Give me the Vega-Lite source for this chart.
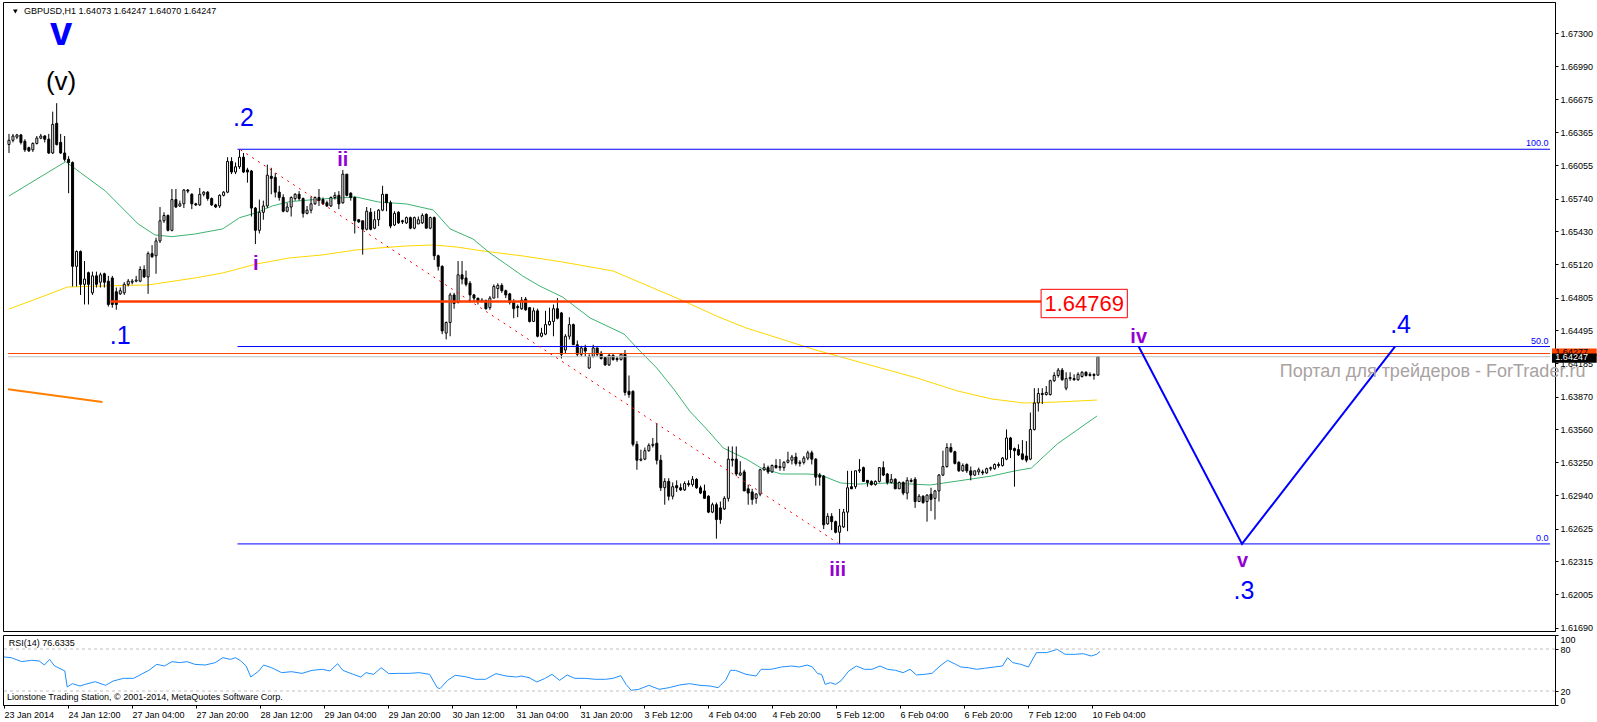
{
  "$schema": "https://vega.github.io/schema/vega-lite/v6.json",
  "background": "white",
  "padding": {"left": 1, "top": 1, "right": 0, "bottom": 0},
  "spacing": 4,
  "bounds": "flush",
  "config": {
    "view": {"stroke": "#000000", "strokeWidth": 1},
    "axis": {"grid": false, "domainColor": "#000000", "tickColor": "#000000", "labelColor": "#000000", "labelFont": "Liberation Sans", "labelFontSize": 9}
  },
  "datasets": {
    "candles": [
      {"i":0,"o":1.6625,"h":1.6635,"l":1.6617,"c":1.6629},{"i":1,"o":1.6629,"h":1.6635,"l":1.6627,"c":1.6633},{"i":2,"o":1.6632,"h":1.6635,"l":1.663,"c":1.6634},{"i":3,"o":1.6634,"h":1.6635,"l":1.6625,"c":1.6627},{"i":4,"o":1.6628,"h":1.663,"l":1.6618,"c":1.662},{"i":5,"o":1.6622,"h":1.6623,"l":1.6618,"c":1.6619},{"i":6,"o":1.662,"h":1.6627,"l":1.6618,"c":1.6626},{"i":7,"o":1.6626,"h":1.6633,"l":1.6625,"c":1.6631},{"i":8,"o":1.6631,"h":1.6635,"l":1.663,"c":1.6633},{"i":9,"o":1.6633,"h":1.6634,"l":1.6627,"c":1.663},
      {"i":10,"o":1.663,"h":1.6635,"l":1.6616,"c":1.6617},{"i":11,"o":1.6617,"h":1.6656,"l":1.6616,"c":1.6644},{"i":12,"o":1.6645,"h":1.6664,"l":1.6624,"c":1.6625},{"i":13,"o":1.6627,"h":1.6635,"l":1.6616,"c":1.6617},{"i":14,"o":1.6617,"h":1.6633,"l":1.6609,"c":1.6611},{"i":15,"o":1.6611,"h":1.6614,"l":1.6579,"c":1.6608},{"i":16,"o":1.6608,"h":1.6609,"l":1.6491,"c":1.651},{"i":17,"o":1.651,"h":1.6525,"l":1.6491,"c":1.6524},{"i":18,"o":1.6524,"h":1.6525,"l":1.6483,"c":1.6493},{"i":19,"o":1.6493,"h":1.6515,"l":1.6474,"c":1.6498},
      {"i":20,"o":1.6504,"h":1.6505,"l":1.6474,"c":1.6493},{"i":21,"o":1.6485,"h":1.6505,"l":1.6483,"c":1.6501},{"i":22,"o":1.6501,"h":1.6505,"l":1.649,"c":1.6493},{"i":23,"o":1.6495,"h":1.6504,"l":1.649,"c":1.6502},{"i":24,"o":1.6503,"h":1.6504,"l":1.649,"c":1.6495},{"i":25,"o":1.6496,"h":1.6501,"l":1.6472,"c":1.6474},{"i":26,"o":1.6499,"h":1.6501,"l":1.6471,"c":1.6474},{"i":27,"o":1.6486,"h":1.649,"l":1.6469,"c":1.6474},{"i":28,"o":1.6484,"h":1.649,"l":1.6483,"c":1.6487},{"i":29,"o":1.6485,"h":1.6495,"l":1.6483,"c":1.6493},
      {"i":30,"o":1.6493,"h":1.6498,"l":1.6491,"c":1.6496},{"i":31,"o":1.6495,"h":1.6498,"l":1.6493,"c":1.6496},{"i":32,"o":1.6496,"h":1.6501,"l":1.6495,"c":1.6497},{"i":33,"o":1.6496,"h":1.651,"l":1.6495,"c":1.6507},{"i":34,"o":1.6507,"h":1.6511,"l":1.6499,"c":1.65},{"i":35,"o":1.65,"h":1.6524,"l":1.6484,"c":1.6522},{"i":36,"o":1.6522,"h":1.653,"l":1.6518,"c":1.6519},{"i":37,"o":1.652,"h":1.6537,"l":1.6503,"c":1.6534},{"i":38,"o":1.6534,"h":1.6566,"l":1.6532,"c":1.6553},{"i":39,"o":1.6553,"h":1.6561,"l":1.6551,"c":1.6558},
      {"i":40,"o":1.6558,"h":1.6559,"l":1.6543,"c":1.6544},{"i":41,"o":1.6544,"h":1.6583,"l":1.6543,"c":1.6573},{"i":42,"o":1.6573,"h":1.6583,"l":1.6565,"c":1.6566},{"i":43,"o":1.6567,"h":1.6572,"l":1.6566,"c":1.6569},{"i":44,"o":1.6569,"h":1.6583,"l":1.6565,"c":1.6582},{"i":45,"o":1.6582,"h":1.6583,"l":1.6579,"c":1.6581},{"i":46,"o":1.6578,"h":1.6579,"l":1.6564,"c":1.6569},{"i":47,"o":1.6569,"h":1.657,"l":1.6567,"c":1.6568},{"i":48,"o":1.6568,"h":1.6584,"l":1.6567,"c":1.6578},{"i":49,"o":1.6578,"h":1.6581,"l":1.6576,"c":1.658},
      {"i":50,"o":1.658,"h":1.6581,"l":1.6572,"c":1.6574},{"i":51,"o":1.6574,"h":1.6575,"l":1.6567,"c":1.6568},{"i":52,"o":1.6568,"h":1.6569,"l":1.6565,"c":1.6566},{"i":53,"o":1.6567,"h":1.6578,"l":1.6565,"c":1.6577},{"i":54,"o":1.6577,"h":1.6581,"l":1.6576,"c":1.658},{"i":55,"o":1.658,"h":1.6613,"l":1.6579,"c":1.6609},{"i":56,"o":1.6609,"h":1.6613,"l":1.6597,"c":1.6599},{"i":57,"o":1.6599,"h":1.6608,"l":1.6597,"c":1.6604},{"i":58,"o":1.6604,"h":1.662,"l":1.6602,"c":1.6613},{"i":59,"o":1.6613,"h":1.6617,"l":1.6598,"c":1.6599},
      {"i":60,"o":1.6601,"h":1.6603,"l":1.6589,"c":1.6599},{"i":61,"o":1.66,"h":1.6601,"l":1.6557,"c":1.6565},{"i":62,"o":1.6565,"h":1.6566,"l":1.6531,"c":1.6544},{"i":63,"o":1.6544,"h":1.6573,"l":1.6541,"c":1.6561},{"i":64,"o":1.6561,"h":1.6572,"l":1.6554,"c":1.6567},{"i":65,"o":1.6567,"h":1.6606,"l":1.6565,"c":1.6596},{"i":66,"o":1.6595,"h":1.6603,"l":1.6578,"c":1.6593},{"i":67,"o":1.6594,"h":1.6598,"l":1.6575,"c":1.658},{"i":68,"o":1.658,"h":1.6586,"l":1.6572,"c":1.6575},{"i":69,"o":1.6575,"h":1.6578,"l":1.6561,"c":1.6562},
      {"i":70,"o":1.6562,"h":1.657,"l":1.6561,"c":1.6566},{"i":71,"o":1.6566,"h":1.6576,"l":1.6557,"c":1.6575},{"i":72,"o":1.6574,"h":1.6579,"l":1.6572,"c":1.6578},{"i":73,"o":1.6578,"h":1.6581,"l":1.6572,"c":1.6574},{"i":74,"o":1.6574,"h":1.6575,"l":1.6556,"c":1.656},{"i":75,"o":1.656,"h":1.6567,"l":1.6559,"c":1.6563},{"i":76,"o":1.6563,"h":1.6576,"l":1.656,"c":1.6569},{"i":77,"o":1.6569,"h":1.6576,"l":1.6568,"c":1.6575},{"i":78,"o":1.6575,"h":1.6583,"l":1.6567,"c":1.6572},{"i":79,"o":1.6573,"h":1.6575,"l":1.6568,"c":1.6569},
      {"i":80,"o":1.657,"h":1.6572,"l":1.6566,"c":1.6567},{"i":81,"o":1.6567,"h":1.6576,"l":1.6566,"c":1.6575},{"i":82,"o":1.6575,"h":1.658,"l":1.6573,"c":1.6577},{"i":83,"o":1.6577,"h":1.6581,"l":1.6564,"c":1.6569},{"i":84,"o":1.657,"h":1.6601,"l":1.6569,"c":1.6597},{"i":85,"o":1.6597,"h":1.6597,"l":1.6576,"c":1.6577},{"i":86,"o":1.6579,"h":1.658,"l":1.6572,"c":1.6575},{"i":87,"o":1.6575,"h":1.6576,"l":1.6541,"c":1.6553},{"i":88,"o":1.6554,"h":1.6554,"l":1.6551,"c":1.6552},{"i":89,"o":1.6553,"h":1.6553,"l":1.6521,"c":1.6545},
      {"i":90,"o":1.6545,"h":1.6566,"l":1.6544,"c":1.6562},{"i":91,"o":1.6561,"h":1.6565,"l":1.6544,"c":1.6545},{"i":92,"o":1.6546,"h":1.6562,"l":1.6545,"c":1.6554},{"i":93,"o":1.6554,"h":1.6564,"l":1.6548,"c":1.6563},{"i":94,"o":1.6563,"h":1.6586,"l":1.6562,"c":1.6578},{"i":95,"o":1.6578,"h":1.6578,"l":1.6562,"c":1.657},{"i":96,"o":1.657,"h":1.6572,"l":1.6546,"c":1.6548},{"i":97,"o":1.6549,"h":1.6562,"l":1.6548,"c":1.656},{"i":98,"o":1.6561,"h":1.6562,"l":1.655,"c":1.6551},{"i":99,"o":1.6553,"h":1.6554,"l":1.655,"c":1.6552},
      {"i":100,"o":1.6551,"h":1.6557,"l":1.655,"c":1.6556},{"i":101,"o":1.6556,"h":1.6557,"l":1.6545,"c":1.6546},{"i":102,"o":1.6546,"h":1.6557,"l":1.6545,"c":1.6556},{"i":103,"o":1.655,"h":1.6557,"l":1.655,"c":1.6554},{"i":104,"o":1.6551,"h":1.656,"l":1.655,"c":1.6558},{"i":105,"o":1.6559,"h":1.656,"l":1.6546,"c":1.6546},{"i":106,"o":1.6546,"h":1.6557,"l":1.6545,"c":1.6556},{"i":107,"o":1.6556,"h":1.6557,"l":1.6516,"c":1.652},{"i":108,"o":1.652,"h":1.6521,"l":1.6506,"c":1.651},{"i":109,"o":1.651,"h":1.6511,"l":1.6446,"c":1.6449},
      {"i":110,"o":1.6447,"h":1.6458,"l":1.6441,"c":1.6457},{"i":111,"o":1.6457,"h":1.6485,"l":1.6444,"c":1.6483},{"i":112,"o":1.6483,"h":1.6485,"l":1.647,"c":1.6475},{"i":113,"o":1.6476,"h":1.6515,"l":1.6475,"c":1.6502},{"i":114,"o":1.6502,"h":1.6515,"l":1.6493,"c":1.6498},{"i":115,"o":1.6499,"h":1.6506,"l":1.6491,"c":1.6493},{"i":116,"o":1.6494,"h":1.6496,"l":1.6476,"c":1.6483},{"i":117,"o":1.6483,"h":1.6484,"l":1.6477,"c":1.648},{"i":118,"o":1.648,"h":1.648,"l":1.6474,"c":1.6477},{"i":119,"o":1.6477,"h":1.648,"l":1.6476,"c":1.6478},
      {"i":120,"o":1.6478,"h":1.6478,"l":1.6469,"c":1.647},{"i":121,"o":1.6471,"h":1.6482,"l":1.6469,"c":1.648},{"i":122,"o":1.648,"h":1.6493,"l":1.648,"c":1.6491},{"i":123,"o":1.6489,"h":1.6494,"l":1.648,"c":1.6492},{"i":124,"o":1.6492,"h":1.6494,"l":1.6485,"c":1.6487},{"i":125,"o":1.6487,"h":1.6488,"l":1.648,"c":1.6483},{"i":126,"o":1.6484,"h":1.6485,"l":1.6474,"c":1.6476},{"i":127,"o":1.6476,"h":1.6479,"l":1.6461,"c":1.647},{"i":128,"o":1.6472,"h":1.6474,"l":1.6462,"c":1.6471},{"i":129,"o":1.647,"h":1.6481,"l":1.6469,"c":1.6478},
      {"i":130,"o":1.6479,"h":1.6481,"l":1.6468,"c":1.6469},{"i":131,"o":1.6471,"h":1.6471,"l":1.6457,"c":1.6458},{"i":132,"o":1.6458,"h":1.6471,"l":1.6458,"c":1.6468},{"i":133,"o":1.6468,"h":1.647,"l":1.6443,"c":1.6444},{"i":134,"o":1.6444,"h":1.6452,"l":1.6443,"c":1.6447},{"i":135,"o":1.6446,"h":1.6468,"l":1.6445,"c":1.6455},{"i":136,"o":1.6455,"h":1.6471,"l":1.6454,"c":1.6458},{"i":137,"o":1.6458,"h":1.6474,"l":1.6444,"c":1.647},{"i":138,"o":1.647,"h":1.648,"l":1.646,"c":1.6461},{"i":139,"o":1.6466,"h":1.6467,"l":1.6423,"c":1.6427},
      {"i":140,"o":1.6431,"h":1.6446,"l":1.6428,"c":1.6444},{"i":141,"o":1.6444,"h":1.6462,"l":1.6441,"c":1.6455},{"i":142,"o":1.6455,"h":1.6456,"l":1.6436,"c":1.6436},{"i":143,"o":1.6436,"h":1.644,"l":1.6425,"c":1.6427},{"i":144,"o":1.6427,"h":1.6435,"l":1.6425,"c":1.6433},{"i":145,"o":1.6433,"h":1.6436,"l":1.6425,"c":1.643},{"i":146,"o":1.6414,"h":1.6427,"l":1.6413,"c":1.6425},{"i":147,"o":1.6425,"h":1.6436,"l":1.6424,"c":1.6433},{"i":148,"o":1.6433,"h":1.6433,"l":1.6425,"c":1.6427},{"i":149,"o":1.6428,"h":1.643,"l":1.6422,"c":1.6423},
      {"i":150,"o":1.6424,"h":1.6424,"l":1.6416,"c":1.6417},{"i":151,"o":1.6417,"h":1.6428,"l":1.6416,"c":1.6426},{"i":152,"o":1.6426,"h":1.6427,"l":1.6421,"c":1.6422},{"i":153,"o":1.6423,"h":1.6425,"l":1.642,"c":1.6422},{"i":154,"o":1.6422,"h":1.6428,"l":1.6421,"c":1.6427},{"i":155,"o":1.6427,"h":1.6431,"l":1.6388,"c":1.6391},{"i":156,"o":1.6392,"h":1.6407,"l":1.6386,"c":1.6389},{"i":157,"o":1.6392,"h":1.6393,"l":1.634,"c":1.6342},{"i":158,"o":1.6342,"h":1.6345,"l":1.6318,"c":1.6327},{"i":159,"o":1.6327,"h":1.6337,"l":1.6326,"c":1.6328},
      {"i":160,"o":1.6328,"h":1.6339,"l":1.6327,"c":1.6336},{"i":161,"o":1.6336,"h":1.6343,"l":1.6335,"c":1.6341},{"i":162,"o":1.6341,"h":1.6348,"l":1.6339,"c":1.6342},{"i":163,"o":1.6343,"h":1.6362,"l":1.6323,"c":1.6327},{"i":164,"o":1.6327,"h":1.6332,"l":1.6298,"c":1.6301},{"i":165,"o":1.6301,"h":1.631,"l":1.6285,"c":1.6307},{"i":166,"o":1.6307,"h":1.631,"l":1.6289,"c":1.6293},{"i":167,"o":1.6293,"h":1.6306,"l":1.629,"c":1.6302},{"i":168,"o":1.6303,"h":1.6308,"l":1.6297,"c":1.6301},{"i":169,"o":1.6301,"h":1.6305,"l":1.6298,"c":1.6299},
      {"i":170,"o":1.6299,"h":1.6307,"l":1.6298,"c":1.6305},{"i":171,"o":1.6305,"h":1.6308,"l":1.6302,"c":1.6304},{"i":172,"o":1.6304,"h":1.6312,"l":1.6302,"c":1.6309},{"i":173,"o":1.6309,"h":1.631,"l":1.63,"c":1.6301},{"i":174,"o":1.6301,"h":1.6303,"l":1.6295,"c":1.6296},{"i":175,"o":1.6298,"h":1.6304,"l":1.6291,"c":1.6291},{"i":176,"o":1.6293,"h":1.6294,"l":1.6277,"c":1.6278},{"i":177,"o":1.6278,"h":1.6287,"l":1.6277,"c":1.6285},{"i":178,"o":1.6285,"h":1.6287,"l":1.6253,"c":1.6271},{"i":179,"o":1.6282,"h":1.6288,"l":1.6267,"c":1.6271},
      {"i":180,"o":1.6281,"h":1.6293,"l":1.628,"c":1.6291},{"i":181,"o":1.6291,"h":1.634,"l":1.6288,"c":1.6328},{"i":182,"o":1.6328,"h":1.634,"l":1.6321,"c":1.6327},{"i":183,"o":1.6328,"h":1.634,"l":1.6312,"c":1.6314},{"i":184,"o":1.6313,"h":1.6326,"l":1.6312,"c":1.6315},{"i":185,"o":1.6316,"h":1.6318,"l":1.6298,"c":1.6298},{"i":186,"o":1.63,"h":1.6304,"l":1.6285,"c":1.6296},{"i":187,"o":1.6297,"h":1.63,"l":1.6285,"c":1.629},{"i":188,"o":1.6291,"h":1.6296,"l":1.6286,"c":1.6295},{"i":189,"o":1.6295,"h":1.6319,"l":1.6293,"c":1.6318},
      {"i":190,"o":1.6318,"h":1.6324,"l":1.6317,"c":1.632},{"i":191,"o":1.632,"h":1.6322,"l":1.6314,"c":1.6316},{"i":192,"o":1.6316,"h":1.6323,"l":1.6315,"c":1.6322},{"i":193,"o":1.6322,"h":1.6328,"l":1.6319,"c":1.632},{"i":194,"o":1.632,"h":1.6328,"l":1.6317,"c":1.6321},{"i":195,"o":1.632,"h":1.6326,"l":1.6317,"c":1.6325},{"i":196,"o":1.6325,"h":1.6335,"l":1.6324,"c":1.6327},{"i":197,"o":1.6327,"h":1.6332,"l":1.6323,"c":1.633},{"i":198,"o":1.633,"h":1.6334,"l":1.6322,"c":1.6324},{"i":199,"o":1.6324,"h":1.6327,"l":1.6321,"c":1.6325},
      {"i":200,"o":1.6325,"h":1.6331,"l":1.6323,"c":1.6329},{"i":201,"o":1.6329,"h":1.6336,"l":1.6327,"c":1.6334},{"i":202,"o":1.6334,"h":1.6336,"l":1.6323,"c":1.6328},{"i":203,"o":1.6328,"h":1.6329,"l":1.6303,"c":1.6311},{"i":204,"o":1.6313,"h":1.6315,"l":1.6303,"c":1.6311},{"i":205,"o":1.6312,"h":1.6313,"l":1.6262,"c":1.6266},{"i":206,"o":1.6267,"h":1.6277,"l":1.6266,"c":1.6274},{"i":207,"o":1.6274,"h":1.6277,"l":1.6261,"c":1.6269},{"i":208,"o":1.6269,"h":1.627,"l":1.6258,"c":1.6259},{"i":209,"o":1.6259,"h":1.6281,"l":1.6248,"c":1.6265},
      {"i":210,"o":1.6264,"h":1.6281,"l":1.6263,"c":1.6278},{"i":211,"o":1.6278,"h":1.6317,"l":1.626,"c":1.6301},{"i":212,"o":1.6302,"h":1.6317,"l":1.63,"c":1.63},{"i":213,"o":1.6302,"h":1.6317,"l":1.63,"c":1.6317},{"i":214,"o":1.6317,"h":1.6328,"l":1.6315,"c":1.6318},{"i":215,"o":1.632,"h":1.6321,"l":1.6307,"c":1.6307},{"i":216,"o":1.6308,"h":1.6308,"l":1.6302,"c":1.6306},{"i":217,"o":1.6307,"h":1.6308,"l":1.6303,"c":1.6304},{"i":218,"o":1.6304,"h":1.6308,"l":1.6303,"c":1.6307},{"i":219,"o":1.6307,"h":1.632,"l":1.6306,"c":1.632},
      {"i":220,"o":1.632,"h":1.6326,"l":1.6312,"c":1.6313},{"i":221,"o":1.6314,"h":1.6315,"l":1.6304,"c":1.6306},{"i":222,"o":1.6306,"h":1.6314,"l":1.6305,"c":1.6309},{"i":223,"o":1.6309,"h":1.631,"l":1.63,"c":1.63},{"i":224,"o":1.63,"h":1.6307,"l":1.63,"c":1.6306},{"i":225,"o":1.6306,"h":1.6307,"l":1.6294,"c":1.6296},{"i":226,"o":1.6296,"h":1.6311,"l":1.629,"c":1.6308},{"i":227,"o":1.6308,"h":1.631,"l":1.6306,"c":1.6307},{"i":228,"o":1.6309,"h":1.6311,"l":1.6282,"c":1.6288},{"i":229,"o":1.6288,"h":1.6295,"l":1.6288,"c":1.6293},
      {"i":230,"o":1.6293,"h":1.6294,"l":1.6286,"c":1.6287},{"i":231,"o":1.6288,"h":1.6295,"l":1.6269,"c":1.6294},{"i":232,"o":1.6295,"h":1.6301,"l":1.6279,"c":1.629},{"i":233,"o":1.6291,"h":1.6299,"l":1.6271,"c":1.6298},{"i":234,"o":1.6298,"h":1.6314,"l":1.6288,"c":1.6313},{"i":235,"o":1.6313,"h":1.6336,"l":1.6312,"c":1.6321},{"i":236,"o":1.6321,"h":1.6343,"l":1.632,"c":1.6339},{"i":237,"o":1.6339,"h":1.6343,"l":1.6334,"c":1.6335},{"i":238,"o":1.6335,"h":1.6336,"l":1.6323,"c":1.6324},{"i":239,"o":1.6325,"h":1.6326,"l":1.6316,"c":1.6317},
      {"i":240,"o":1.6317,"h":1.6324,"l":1.6316,"c":1.6322},{"i":241,"o":1.6323,"h":1.6324,"l":1.6315,"c":1.6317},{"i":242,"o":1.6317,"h":1.6321,"l":1.6308,"c":1.6313},{"i":243,"o":1.6313,"h":1.6317,"l":1.6312,"c":1.6317},{"i":244,"o":1.6316,"h":1.632,"l":1.6313,"c":1.6318},{"i":245,"o":1.6316,"h":1.6318,"l":1.6313,"c":1.6315},{"i":246,"o":1.6315,"h":1.632,"l":1.6314,"c":1.6319},{"i":247,"o":1.6319,"h":1.6321,"l":1.6317,"c":1.632},{"i":248,"o":1.6319,"h":1.6324,"l":1.6318,"c":1.6323},{"i":249,"o":1.6323,"h":1.6325,"l":1.632,"c":1.6322},
      {"i":250,"o":1.6322,"h":1.633,"l":1.6321,"c":1.6329},{"i":251,"o":1.6328,"h":1.6356,"l":1.6327,"c":1.6348},{"i":252,"o":1.6348,"h":1.6349,"l":1.6329,"c":1.6337},{"i":253,"o":1.6338,"h":1.6339,"l":1.6302,"c":1.6336},{"i":254,"o":1.6337,"h":1.6342,"l":1.6331,"c":1.6332},{"i":255,"o":1.6333,"h":1.6346,"l":1.6327,"c":1.6328},{"i":256,"o":1.6331,"h":1.6345,"l":1.6325,"c":1.6327},{"i":257,"o":1.6328,"h":1.6372,"l":1.6327,"c":1.6356},{"i":258,"o":1.6356,"h":1.6395,"l":1.6355,"c":1.6381},{"i":259,"o":1.6381,"h":1.6395,"l":1.6373,"c":1.639},
      {"i":260,"o":1.639,"h":1.6395,"l":1.638,"c":1.6389},{"i":261,"o":1.6389,"h":1.6397,"l":1.6388,"c":1.6391},{"i":262,"o":1.6389,"h":1.6403,"l":1.6388,"c":1.6402},{"i":263,"o":1.6402,"h":1.641,"l":1.6401,"c":1.6407},{"i":264,"o":1.6407,"h":1.6414,"l":1.6405,"c":1.6412},{"i":265,"o":1.6412,"h":1.6414,"l":1.6402,"c":1.6403},{"i":266,"o":1.6395,"h":1.641,"l":1.6393,"c":1.6404},{"i":267,"o":1.6404,"h":1.641,"l":1.6402,"c":1.6405},{"i":268,"o":1.6404,"h":1.6408,"l":1.6402,"c":1.6403},{"i":269,"o":1.6403,"h":1.641,"l":1.6402,"c":1.6408},
      {"i":270,"o":1.6406,"h":1.6411,"l":1.6405,"c":1.641},{"i":271,"o":1.641,"h":1.6411,"l":1.6406,"c":1.6407},{"i":272,"o":1.6407,"h":1.641,"l":1.6406,"c":1.6408},{"i":273,"o":1.6408,"h":1.6409,"l":1.6403,"c":1.6407},{"i":274,"o":1.64073,"h":1.64247,"l":1.6407,"c":1.64247}
    ],
    "yellow": [
      {"i":0,"p":1.64697},{"i":7.5,"p":1.64801},{"i":14.75,"p":1.64905},{"i":24.25,"p":1.64915},{"i":35,"p":1.64924},{"i":46.75,"p":1.6499},{"i":53.75,"p":1.65037},{"i":62.25,"p":1.65122},{"i":70.5,"p":1.65179},{"i":78.75,"p":1.65207},{"i":87.25,"p":1.65254},{"i":93,"p":1.65273},{"i":100,"p":1.65292},{"i":106.75,"p":1.65302},{"i":112.5,"p":1.65283},{"i":119.25,"p":1.65245},{"i":129.25,"p":1.65198},{"i":139.25,"p":1.65141},{"i":152,"p":1.65056},{"i":169.75,"p":1.64773},{"i":178,"p":1.64631},{"i":185.5,"p":1.64518},{"i":194.25,"p":1.64414},{"i":203,"p":1.6431},{"i":228.5,"p":1.64046},{"i":238.75,"p":1.63923},{"i":247.25,"p":1.63848},{"i":255.5,"p":1.6381},{"i":263.75,"p":1.63819},{"i":273.75,"p":1.63838}
    ],
    "green": [
      {"i":0,"p":1.65764},{"i":14.25,"p":1.66088},{"i":24.25,"p":1.65811},{"i":32.5,"p":1.655},{"i":36.75,"p":1.65396},{"i":41,"p":1.6538},{"i":46.75,"p":1.65405},{"i":53.75,"p":1.65453},{"i":58,"p":1.65559},{"i":62.25,"p":1.65606},{"i":66.25,"p":1.6567},{"i":70.5,"p":1.6571},{"i":78.75,"p":1.65736},{"i":87.25,"p":1.65755},{"i":93,"p":1.65707},{"i":100,"p":1.65689},{"i":106.75,"p":1.65632},{"i":111,"p":1.65453},{"i":116.75,"p":1.65358},{"i":121,"p":1.65226},{"i":125,"p":1.65122},{"i":129.25,"p":1.65009},{"i":133.5,"p":1.64915},{"i":139.25,"p":1.64811},{"i":146.25,"p":1.64612},{"i":154.75,"p":1.64461},{"i":158.75,"p":1.64301},{"i":163,"p":1.6414},{"i":167.25,"p":1.63942},{"i":171.25,"p":1.63735},{"i":175.5,"p":1.63565},{"i":179.75,"p":1.63385},{"i":185.5,"p":1.63281},{"i":189.25,"p":1.63196},{"i":194.25,"p":1.6314},{"i":201,"p":1.6314},{"i":204.25,"p":1.6313},{"i":209.25,"p":1.63055},{"i":213.5,"p":1.63045},{"i":221.75,"p":1.63055},{"i":231.75,"p":1.63036},{"i":238.75,"p":1.63074},{"i":247.25,"p":1.63121},{"i":253,"p":1.63168},{"i":257.25,"p":1.63196},{"i":263.75,"p":1.63423},{"i":273.75,"p":1.63687}
    ],
    "rsi": [
      {"i":0,"v":68.6},{"i":1.8,"v":67.6},{"i":4.4,"v":62},{"i":6.9,"v":63.8},{"i":8.8,"v":62.9},{"i":10.1,"v":57.1},{"i":11.4,"v":65.2},{"i":12.6,"v":56},{"i":15.2,"v":48.6},{"i":15.8,"v":25.7},{"i":17.1,"v":30.5},{"i":19,"v":27.1},{"i":20.3,"v":29.5},{"i":22.8,"v":33.3},{"i":25.4,"v":28.1},{"i":27.3,"v":34.3},{"i":29.9,"v":38.1},{"i":32.4,"v":38.1},{"i":34.3,"v":43.8},{"i":36.2,"v":49.5},{"i":38.2,"v":58.1},{"i":40.1,"v":55.7},{"i":42,"v":61.9},{"i":43.9,"v":60.5},{"i":45.8,"v":61.9},{"i":47.7,"v":58.1},{"i":50.3,"v":57.1},{"i":52.8,"v":60.5},{"i":54.7,"v":67.6},{"i":56.6,"v":65.2},{"i":57.9,"v":67.6},{"i":59.2,"v":62.9},{"i":60.5,"v":56},{"i":61.7,"v":40},{"i":63.7,"v":48.6},{"i":64.9,"v":57.1},{"i":66.9,"v":53.3},{"i":69.4,"v":46.2},{"i":71.9,"v":47.6},{"i":74.5,"v":45.2},{"i":77,"v":49.5},{"i":79.6,"v":51},{"i":81.5,"v":48.6},{"i":83.4,"v":59},{"i":84.7,"v":49.5},{"i":87.3,"v":43.8},{"i":89.2,"v":40},{"i":90.5,"v":46.2},{"i":92.4,"v":43.8},{"i":94.3,"v":53.3},{"i":96.2,"v":44.8},{"i":98.7,"v":45.2},{"i":101.3,"v":45.2},{"i":103.8,"v":46.2},{"i":106.4,"v":43.8},{"i":108.3,"v":24.8},{"i":109,"v":23.4},{"i":110.9,"v":35.2},{"i":112.8,"v":42.4},{"i":115.3,"v":40.5},{"i":117.9,"v":36.7},{"i":120.4,"v":36.7},{"i":123,"v":44.8},{"i":125.5,"v":41.4},{"i":128.1,"v":40},{"i":129.4,"v":41.4},{"i":131.3,"v":39},{"i":133.2,"v":32.9},{"i":135.1,"v":37.6},{"i":137,"v":43.8},{"i":138.9,"v":35.2},{"i":140.8,"v":42.9},{"i":142.7,"v":38.1},{"i":145.3,"v":38.1},{"i":147.8,"v":36.7},{"i":150.4,"v":36.7},{"i":152.3,"v":38.1},{"i":154.2,"v":41.9},{"i":155.5,"v":29.5},{"i":156.8,"v":21},{"i":158.7,"v":22.4},{"i":161.2,"v":28.1},{"i":163.8,"v":22.4},{"i":166.3,"v":24.8},{"i":168.9,"v":28.6},{"i":171.4,"v":30.5},{"i":174,"v":28.1},{"i":176.5,"v":27.1},{"i":178.5,"v":24.8},{"i":180.4,"v":35.2},{"i":181.6,"v":49.5},{"i":182.9,"v":49.5},{"i":185.5,"v":43.8},{"i":188,"v":41.4},{"i":189.3,"v":51},{"i":191.8,"v":51},{"i":194.4,"v":54.3},{"i":196.9,"v":55.7},{"i":198.8,"v":54.3},{"i":200.8,"v":57.1},{"i":202.1,"v":54.3},{"i":203.4,"v":44.8},{"i":204.4,"v":43.8},{"i":205.3,"v":29.5},{"i":206.6,"v":31.9},{"i":207.9,"v":29.5},{"i":209.2,"v":34.3},{"i":211.2,"v":48.6},{"i":213.1,"v":55.7},{"i":215.1,"v":51},{"i":217,"v":51},{"i":219,"v":55.7},{"i":220.9,"v":51},{"i":222.9,"v":49.5},{"i":224.8,"v":46.2},{"i":226.5,"v":51},{"i":228.1,"v":42.9},{"i":230.1,"v":43.8},{"i":232,"v":45.2},{"i":234,"v":55.7},{"i":235.9,"v":63.8},{"i":237.9,"v":58.1},{"i":239.2,"v":54.3},{"i":241.1,"v":53.3},{"i":243.1,"v":51},{"i":245.1,"v":52.4},{"i":247.6,"v":54.3},{"i":249.6,"v":55.7},{"i":250.9,"v":67.6},{"i":252.2,"v":60.5},{"i":254.2,"v":58.1},{"i":256.1,"v":54.3},{"i":258.1,"v":74.8},{"i":260.7,"v":74.8},{"i":263.3,"v":79.5},{"i":265.3,"v":72.4},{"i":267.9,"v":72.4},{"i":269.8,"v":73.3},{"i":271.8,"v":70},{"i":273.2,"v":72.5},{"i":274,"v":76.6}
    ],
    "fib": [
      {"i":57.5,"i2":387.75,"p":1.66205,"t":"100.0"},{"i":57.5,"i2":387.75,"p":1.64343,"t":"50.0"},{"i":57.5,"i2":387.75,"p":1.6248,"t":"0.0"}
    ],
    "levels": [
      {"k":"ask","i":-0.25,"i2":387.75,"p":1.64277},{"k":"bid","i":-0.25,"i2":387.75,"p":1.64247},{"k":"res","i":25.5,"i2":259.7,"p":1.64769}
    ],
    "segs": [
      {"k":"trend","i":58.25,"p":1.662,"i2":208.5,"p2":1.6249},{"k":"orange","i":-0.25,"p":1.6394,"i2":23.5,"p2":1.6382}
    ],
    "zig": [
      {"i":284.25,"p":1.64343},{"i":310.25,"p":1.6248},{"i":348.75,"p":1.64343}
    ],
    "boxes": [
      {"k":"res","i":259.7,"i2":281.4,"p":1.64883,"p2":1.64615},{"k":"ask","i":388.25,"i2":399.5,"p":1.64324,"p2":1.64254},{"k":"bid","i":388.25,"i2":399.5,"p":1.64277,"p2":1.64189}
    ],
    "labels": [
      {"g":"big","t":"v","i":13.1,"p":1.6719},
      {"g":"paren","t":"(v)","i":13.1,"p":1.6684},
      {"g":"num","t":".2","i":59,"p":1.66425},
      {"g":"num","t":".1","i":28,"p":1.64367},
      {"g":"num","t":".3","i":310.75,"p":1.6196},
      {"g":"num","t":".4","i":350.15,"p":1.64471},
      {"g":"sub","t":"i","i":62.1,"p":1.65066},
      {"g":"sub","t":"ii","i":84,"p":1.66047},
      {"g":"sub","t":"iii","i":208.5,"p":1.62177},
      {"g":"sub","t":"iv","i":284.25,"p":1.64379},
      {"g":"sub","t":"v","i":310.4,"p":1.62262},
      {"g":"title","t":"GBPUSD,H1  1.64073 1.64247 1.64070 1.64247","i":3.8,"p":1.67479},
      {"g":"wm","t":"Портал для трейдеров - ForTrader.ru","i":319.75,"p":1.64055},
      {"g":"box","t":"1.64769","i":270.55,"p":1.64749},
      {"g":"ask","t":"1.64277","i":389.1,"p":1.64294},
      {"g":"bid","t":"1.64247","i":389.1,"p":1.6424},
      {"g":"fib","t":"100.0","i":387.4,"p":1.66205},
      {"g":"fib","t":"50.0","i":387.4,"p":1.64343},
      {"g":"fib","t":"0.0","i":387.4,"p":1.6248}
    ],
    "tri": [{"i":1.6,"p":1.67506}],
    "rsilv": [{"v":80},{"v":20}],
    "rsitext": [
      {"t":"RSI(14) 76.6335","i":1.2,"v":84.3},
      {"t":"Lionstone Trading Station, © 2001-2014, MetaQuotes Software Corp.","i":0.75,"v":7.1}
    ]
  },
  "vconcat": [
    {
      "width": 1552,
      "height": 629,
      "layer": [
        {
          "data": {"name": "yellow"},
          "mark": {"type": "line", "color": "#FFD700", "strokeWidth": 1},
          "encoding": {
            "x": {"field": "i", "type": "quantitative", "scale": {"domain": [-0.25, 387.75], "nice": false, "zero": false}, "axis": null},
            "y": {"field": "p", "type": "quantitative", "scale": {"domain": [1.61658, 1.67595], "nice": false, "zero": false}, "title": null,
                  "axis": {"orient": "right", "title": null, "values": [1.6169,1.62005,1.62315,1.62625,1.6294,1.6325,1.6356,1.6387,1.64185,1.64495,1.64805,1.6512,1.6543,1.6574,1.66055,1.66365,1.66675,1.6699,1.673], "tickCount": 100, "format": ".5f", "tickSize": 3, "labelPadding": 2, "labelOverlap": false, "labelBound": false, "labelFlush": false}}
          }
        },
        {
          "data": {"name": "green"},
          "mark": {"type": "line", "color": "#3CB371", "strokeWidth": 1},
          "encoding": {
            "x": {"field": "i", "type": "quantitative", "axis": null},
            "y": {"field": "p", "type": "quantitative", "title": null}
          }
        },
        {
          "data": {"name": "candles"},
          "mark": {"type": "rule", "color": "#000000", "strokeWidth": 1},
          "encoding": {
            "x": {"field": "i", "type": "quantitative", "axis": null},
            "y": {"field": "l", "type": "quantitative", "title": null},
            "y2": {"field": "h"}
          }
        },
        {
          "data": {"name": "candles"},
          "mark": {"type": "bar", "width": 2, "stroke": "#000000", "strokeWidth": 1},
          "encoding": {
            "x": {"field": "i", "type": "quantitative", "axis": null},
            "y": {"field": "o", "type": "quantitative", "title": null},
            "y2": {"field": "c"},
            "fill": {"condition": {"test": "datum.c > datum.o", "value": "#ffffff"}, "value": "#000000"}
          }
        },
        {
          "data": {"name": "fib"},
          "mark": {"type": "rule", "color": "#0000FF", "strokeWidth": 1},
          "encoding": {
            "x": {"field": "i", "type": "quantitative", "axis": null},
            "x2": {"field": "i2"},
            "y": {"field": "p", "type": "quantitative", "title": null}
          }
        },
        {
          "data": {"name": "levels"},
          "transform": [{"filter": "datum.k == 'bid'"}],
          "mark": {"type": "rule", "color": "#C0C0C0", "strokeWidth": 1},
          "encoding": {
            "x": {"field": "i", "type": "quantitative", "axis": null},
            "x2": {"field": "i2"},
            "y": {"field": "p", "type": "quantitative", "title": null}
          }
        },
        {
          "data": {"name": "levels"},
          "transform": [{"filter": "datum.k == 'ask'"}],
          "mark": {"type": "rule", "color": "#FF4500", "strokeWidth": 1},
          "encoding": {
            "x": {"field": "i", "type": "quantitative", "axis": null},
            "x2": {"field": "i2"},
            "y": {"field": "p", "type": "quantitative", "title": null}
          }
        },
        {
          "data": {"name": "levels"},
          "transform": [{"filter": "datum.k == 'res'"}],
          "mark": {"type": "rule", "color": "#FF3C00", "strokeWidth": 2.5},
          "encoding": {
            "x": {"field": "i", "type": "quantitative", "axis": null},
            "x2": {"field": "i2"},
            "y": {"field": "p", "type": "quantitative", "title": null}
          }
        },
        {
          "data": {"name": "segs"},
          "transform": [{"filter": "datum.k == 'trend'"}],
          "mark": {"type": "rule", "color": "#FF0000", "strokeWidth": 1, "strokeDash": [2, 5]},
          "encoding": {
            "x": {"field": "i", "type": "quantitative", "axis": null},
            "x2": {"field": "i2"},
            "y": {"field": "p", "type": "quantitative", "title": null},
            "y2": {"field": "p2"}
          }
        },
        {
          "data": {"name": "segs"},
          "transform": [{"filter": "datum.k == 'orange'"}],
          "mark": {"type": "rule", "color": "#FF7F00", "strokeWidth": 2},
          "encoding": {
            "x": {"field": "i", "type": "quantitative", "axis": null},
            "x2": {"field": "i2"},
            "y": {"field": "p", "type": "quantitative", "title": null},
            "y2": {"field": "p2"}
          }
        },
        {
          "data": {"name": "zig"},
          "mark": {"type": "line", "color": "#0000FF", "strokeWidth": 2},
          "encoding": {
            "x": {"field": "i", "type": "quantitative", "axis": null},
            "y": {"field": "p", "type": "quantitative", "title": null}
          }
        },
        {
          "data": {"name": "boxes"},
          "transform": [{"filter": "datum.k == 'res'"}],
          "mark": {"type": "rect", "fill": "#ffffff", "stroke": "#FF0000", "strokeWidth": 1},
          "encoding": {
            "x": {"field": "i", "type": "quantitative", "axis": null},
            "x2": {"field": "i2"},
            "y": {"field": "p", "type": "quantitative", "title": null},
            "y2": {"field": "p2"}
          }
        },
        {
          "data": {"name": "boxes"},
          "transform": [{"filter": "datum.k == 'ask'"}],
          "mark": {"type": "rect", "fill": "#FF4500", "clip": false},
          "encoding": {
            "x": {"field": "i", "type": "quantitative", "axis": null},
            "x2": {"field": "i2"},
            "y": {"field": "p", "type": "quantitative", "title": null},
            "y2": {"field": "p2"}
          }
        },
        {
          "data": {"name": "labels"},
          "transform": [{"filter": "datum.g == 'ask'"}],
          "mark": {"type": "text", "font": "Liberation Sans", "fontSize": 9, "color": "#000000", "align": "left", "baseline": "middle"},
          "encoding": {
            "x": {"field": "i", "type": "quantitative", "axis": null},
            "y": {"field": "p", "type": "quantitative", "title": null},
            "text": {"field": "t"}
          }
        },
        {
          "data": {"name": "boxes"},
          "transform": [{"filter": "datum.k == 'bid'"}],
          "mark": {"type": "rect", "fill": "#000000", "clip": false},
          "encoding": {
            "x": {"field": "i", "type": "quantitative", "axis": null},
            "x2": {"field": "i2"},
            "y": {"field": "p", "type": "quantitative", "title": null},
            "y2": {"field": "p2"}
          }
        },
        {
          "data": {"name": "labels"},
          "transform": [{"filter": "datum.g == 'bid'"}],
          "mark": {"type": "text", "font": "Liberation Sans", "fontSize": 9, "color": "#ffffff", "align": "left", "baseline": "middle"},
          "encoding": {
            "x": {"field": "i", "type": "quantitative", "axis": null},
            "y": {"field": "p", "type": "quantitative", "title": null},
            "text": {"field": "t"}
          }
        },
        {
          "data": {"name": "labels"},
          "transform": [{"filter": "datum.g == 'fib'"}],
          "mark": {"type": "text", "font": "Liberation Sans", "fontSize": 9, "color": "#0000FF", "align": "right", "baseline": "bottom", "dy": -1},
          "encoding": {
            "x": {"field": "i", "type": "quantitative", "axis": null},
            "y": {"field": "p", "type": "quantitative", "title": null},
            "text": {"field": "t"}
          }
        },
        {
          "data": {"name": "labels"},
          "transform": [{"filter": "datum.g == 'box'"}],
          "mark": {"type": "text", "font": "Liberation Sans", "fontSize": 22, "color": "#FF0000", "align": "center", "baseline": "middle"},
          "encoding": {
            "x": {"field": "i", "type": "quantitative", "axis": null},
            "y": {"field": "p", "type": "quantitative", "title": null},
            "text": {"field": "t"}
          }
        },
        {
          "data": {"name": "labels"},
          "transform": [{"filter": "datum.g == 'num'"}],
          "mark": {"type": "text", "font": "Liberation Sans", "fontSize": 25, "color": "#0000FF", "align": "center", "baseline": "alphabetic"},
          "encoding": {
            "x": {"field": "i", "type": "quantitative", "axis": null},
            "y": {"field": "p", "type": "quantitative", "title": null},
            "text": {"field": "t"}
          }
        },
        {
          "data": {"name": "labels"},
          "transform": [{"filter": "datum.g == 'sub'"}],
          "mark": {"type": "text", "font": "Liberation Sans", "fontSize": 20, "fontWeight": "bold", "color": "#9400D3", "align": "center", "baseline": "alphabetic"},
          "encoding": {
            "x": {"field": "i", "type": "quantitative", "axis": null},
            "y": {"field": "p", "type": "quantitative", "title": null},
            "text": {"field": "t"}
          }
        },
        {
          "data": {"name": "labels"},
          "transform": [{"filter": "datum.g == 'big'"}],
          "mark": {"type": "text", "font": "Liberation Sans", "fontSize": 40, "fontWeight": "bold", "color": "#0000FF", "align": "center", "baseline": "alphabetic"},
          "encoding": {
            "x": {"field": "i", "type": "quantitative", "axis": null},
            "y": {"field": "p", "type": "quantitative", "title": null},
            "text": {"field": "t"}
          }
        },
        {
          "data": {"name": "labels"},
          "transform": [{"filter": "datum.g == 'paren'"}],
          "mark": {"type": "text", "font": "Liberation Sans", "fontSize": 26, "color": "#000000", "align": "center", "baseline": "middle"},
          "encoding": {
            "x": {"field": "i", "type": "quantitative", "axis": null},
            "y": {"field": "p", "type": "quantitative", "title": null},
            "text": {"field": "t"}
          }
        },
        {
          "data": {"name": "labels"},
          "transform": [{"filter": "datum.g == 'wm'"}],
          "mark": {"type": "text", "font": "Liberation Sans", "fontSize": 18, "color": "#A8A2A2", "align": "left", "baseline": "alphabetic"},
          "encoding": {
            "x": {"field": "i", "type": "quantitative", "axis": null},
            "y": {"field": "p", "type": "quantitative", "title": null},
            "text": {"field": "t"}
          }
        },
        {
          "data": {"name": "labels"},
          "transform": [{"filter": "datum.g == 'title'"}],
          "mark": {"type": "text", "font": "Liberation Sans", "fontSize": 9, "color": "#000000", "align": "left", "baseline": "alphabetic"},
          "encoding": {
            "x": {"field": "i", "type": "quantitative", "axis": null},
            "y": {"field": "p", "type": "quantitative", "title": null},
            "text": {"field": "t"}
          }
        },
        {
          "data": {"name": "tri"},
          "mark": {"type": "point", "shape": "triangle-down", "filled": true, "color": "#000000", "size": 22, "opacity": 1},
          "encoding": {
            "x": {"field": "i", "type": "quantitative", "axis": null},
            "y": {"field": "p", "type": "quantitative", "title": null}
          }
        }
      ]
    },
    {
      "width": 1552,
      "height": 70,
      "layer": [
        {
          "data": {"name": "rsi"},
          "mark": {"type": "line", "color": "#1E90FF", "strokeWidth": 1},
          "encoding": {
            "x": {"field": "i", "type": "quantitative", "scale": {"domain": [-0.25, 387.75], "nice": false, "zero": false}, "title": null,
                  "axis": {"title": null, "values": [0,16,32,48,64,80,96,112,128,144,160,176,192,208,224,240,256,272], "tickCount": 100, "labelExpr": "['23 Jan 2014','24 Jan 12:00','27 Jan 04:00','27 Jan 20:00','28 Jan 12:00','29 Jan 04:00','29 Jan 20:00','30 Jan 12:00','31 Jan 04:00','31 Jan 20:00','3 Feb 12:00','4 Feb 04:00','4 Feb 20:00','5 Feb 12:00','6 Feb 04:00','6 Feb 20:00','7 Feb 12:00','10 Feb 04:00'][round(datum.value/16)]", "labelAlign": "left", "tickSize": 3, "labelPadding": 2, "labelOverlap": false, "labelBound": false, "labelFlush": false}},
            "y": {"field": "v", "type": "quantitative", "scale": {"domain": [0, 100], "nice": false, "zero": false}, "title": null,
                  "axis": {"orient": "right", "title": null, "values": [0, 20, 80, 100], "tickCount": 20, "tickSize": 3, "labelPadding": 2, "labelFlush": true, "labelOverlap": false}}
          }
        },
        {
          "data": {"name": "rsilv"},
          "mark": {"type": "rule", "color": "#C0C0C0", "strokeWidth": 1, "strokeDash": [3, 3]},
          "encoding": {
            "y": {"field": "v", "type": "quantitative", "title": null}
          }
        },
        {
          "data": {"name": "rsitext"},
          "mark": {"type": "text", "font": "Liberation Sans", "fontSize": 9, "color": "#000000", "align": "left", "baseline": "alphabetic"},
          "encoding": {
            "x": {"field": "i", "type": "quantitative", "title": null},
            "y": {"field": "v", "type": "quantitative", "title": null},
            "text": {"field": "t"}
          }
        }
      ]
    }
  ]
}
